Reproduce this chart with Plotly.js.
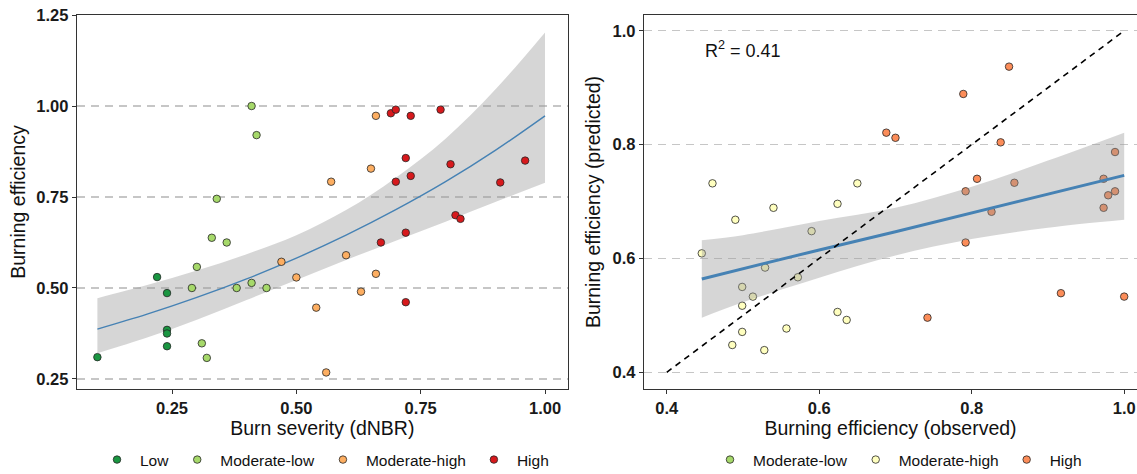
<!DOCTYPE html>
<html>
<head>
<meta charset="utf-8">
<script src="https://cdn.plot.ly/plotly-3.0.1.min.js"></script>
<style>html,body{margin:0;padding:0;background:#fff;}#chart{width:1137px;height:474px;}</style>
</head>
<body>
<div id="chart"></div>
<script>
// ---------- Left panel: Burning efficiency vs burn severity ----------
const lowX = [0.10, 0.22, 0.24, 0.24, 0.24, 0.24];
const lowY = [0.31, 0.53, 0.486, 0.385, 0.375, 0.34];
const modLowX = [0.41, 0.42, 0.34, 0.33, 0.36, 0.30, 0.29, 0.38, 0.41, 0.44, 0.31, 0.32];
const modLowY = [1.00, 0.92, 0.745, 0.638, 0.625, 0.558, 0.50, 0.50, 0.514, 0.50, 0.348, 0.308];
const modHighX = [0.66, 0.65, 0.57, 0.47, 0.50, 0.60, 0.66, 0.63, 0.54, 0.56];
const modHighY = [0.973, 0.828, 0.792, 0.572, 0.529, 0.59, 0.539, 0.49, 0.446, 0.268];
const highX = [0.69, 0.70, 0.73, 0.79, 0.72, 0.81, 0.96, 0.73, 0.70, 0.91, 0.82, 0.83, 0.72, 0.67, 0.72];
const highY = [0.98, 0.99, 0.973, 0.99, 0.857, 0.84, 0.85, 0.808, 0.792, 0.79, 0.70, 0.69, 0.652, 0.625, 0.461];

// fitted curve and confidence band
const fitLX = [0.10, 0.20, 0.30, 0.40, 0.50, 0.60, 0.70, 0.80, 0.90, 1.00];
const fitLY = [0.387, 0.428, 0.474, 0.525, 0.582, 0.645, 0.715, 0.792, 0.878, 0.973];
const fitLLo = [0.321, 0.364, 0.413, 0.467, 0.522, 0.577, 0.630, 0.682, 0.736, 0.789];
const fitLHi = [0.472, 0.508, 0.548, 0.593, 0.645, 0.714, 0.803, 0.910, 1.045, 1.202];

const xTicksL = [0.25, 0.50, 0.75, 1.00];
const yTicksL = [0.25, 0.50, 0.75, 1.00, 1.25];

// ---------- Right panel: predicted vs observed ----------
const mhObs = [0.46, 0.49, 0.54, 0.624, 0.65, 0.59, 0.446, 0.529, 0.572, 0.499, 0.513, 0.499, 0.624, 0.636, 0.557, 0.499, 0.486, 0.528];
const mhPred = [0.732, 0.668, 0.689, 0.696, 0.732, 0.648, 0.609, 0.584, 0.567, 0.550, 0.533, 0.517, 0.506, 0.492, 0.477, 0.471, 0.448, 0.439];
const hObs = [0.849, 0.789, 0.688, 0.70, 0.838, 0.807, 0.856, 0.792, 0.826, 0.988, 0.973, 0.988, 0.979, 0.973, 0.792, 0.917, 1.0, 0.742];
const hPred = [0.937, 0.889, 0.821, 0.812, 0.804, 0.740, 0.733, 0.718, 0.682, 0.787, 0.740, 0.718, 0.711, 0.689, 0.628, 0.539, 0.533, 0.496];
// no Moderate-low points in this panel: legend entry only
const mlObs = [null];
const mlPred = [null];

const fitRX = [0.446, 0.50, 0.60, 0.70, 0.80, 0.90, 1.00];
const fitRY = [0.564, 0.582, 0.615, 0.647, 0.680, 0.713, 0.746];
const fitRLo = [0.496, 0.523, 0.566, 0.605, 0.634, 0.654, 0.668];
const fitRHi = [0.632, 0.641, 0.666, 0.689, 0.726, 0.772, 0.821];

const oneToOneX = [0.4, 1.0];
const oneToOneY = [0.4, 1.0];

const xTicksR = [0.4, 0.6, 0.8, 1.0];
const yTicksR = [0.4, 0.6, 0.8, 1.0];

const r2Label = 'R<sup>2</sup> = 0.41';

// ---------- colours ----------
const cLow = '#1a9641', cModLow = '#a6d96a', cModHigh = '#fdae61', cHigh = '#d7191c';
const cModHighR = '#ffffbf', cHighR = '#fc8d59';
const FONT = 'Liberation Sans, Arial, Helvetica, sans-serif';

function pts(x, y, name, color, xa, ya, legend) {
  return {
    type: 'scatter', mode: 'markers', x: x, y: y, name: name,
    xaxis: xa, yaxis: ya, legend: legend,
    marker: {color: color, size: 7.5, line: {color: '#262626', width: 0.8}},
    hoverinfo: 'x+y'
  };
}
function band(x, lo, hi, xa, ya, shape) {
  return [
    {type: 'scatter', mode: 'lines', x: x, y: lo, line: {width: 0, shape: shape},
     xaxis: xa, yaxis: ya, showlegend: false, hoverinfo: 'skip'},
    {type: 'scatter', mode: 'lines', x: x, y: hi, line: {width: 0, shape: shape},
     fill: 'tonexty', fillcolor: 'rgba(153,153,153,0.4)',
     xaxis: xa, yaxis: ya, showlegend: false, hoverinfo: 'skip'}
  ];
}

const traces = [].concat(
  band(fitLX, fitLLo, fitLHi, 'x', 'y', 'spline'),
  [
    {type: 'scatter', mode: 'lines', x: fitLX, y: fitLY, line: {color: '#4682b4', width: 1.4, shape: 'spline'},
     xaxis: 'x', yaxis: 'y', showlegend: false},
    pts(lowX, lowY, 'Low', cLow, 'x', 'y', 'legend'),
    pts(modLowX, modLowY, 'Moderate-low', cModLow, 'x', 'y', 'legend'),
    pts(modHighX, modHighY, 'Moderate-high', cModHigh, 'x', 'y', 'legend'),
    pts(highX, highY, 'High', cHigh, 'x', 'y', 'legend'),

    pts(mlObs, mlPred, 'Moderate-low', cModLow, 'x2', 'y2', 'legend2'),
    pts(mhObs, mhPred, 'Moderate-high', cModHighR, 'x2', 'y2', 'legend2'),
    pts(hObs, hPred, 'High', cHighR, 'x2', 'y2', 'legend2')
  ],
  band(fitRX, fitRLo, fitRHi, 'x2', 'y2', 'spline'),
  [
    {type: 'scatter', mode: 'lines', x: fitRX, y: fitRY, line: {color: '#4682b4', width: 3},
     xaxis: 'x2', yaxis: 'y2', showlegend: false},
    {type: 'scatter', mode: 'lines', x: oneToOneX, y: oneToOneY, line: {color: '#000', width: 1.6, dash: '6px,5px'},
     xaxis: 'x2', yaxis: 'y2', showlegend: false}
  ]
);

const axisCommon = {
  showline: true, linecolor: '#333', linewidth: 1.3,
  ticks: 'outside', ticklen: 4, tickwidth: 1, tickcolor: '#333',
  tickfont: {size: 16.5, weight: 'bold', color: '#1a1a1a', family: FONT},
  zeroline: false, automargin: true
};
const gridY = {showgrid: true, gridcolor: '#c6c6c6', gridwidth: 1.3, griddash: '8px,6px'};

// plot area spans pixel rows 15..389 (374 px); legends sit at row ~460
const legY = (389 - 460) / 374;

const layout = {
  width: 1137, height: 474,
  margin: {l: 0, r: 0, t: 15, b: 85, pad: 0, autoexpand: false},
  paper_bgcolor: '#fff', plot_bgcolor: '#fff',
  font: {family: FONT, color: '#000'},
  showlegend: true,
  xaxis: Object.assign({}, axisCommon, {
    domain: [77 / 1137, 567.7 / 1137], range: [0.059, 1.0456],
    tickvals: xTicksL, tickformat: '.2f', showgrid: false, mirror: true, anchor: 'y',
    title: {text: 'Burn severity (dNBR)', font: {size: 19.5, color: '#111'}, standoff: 4}
  }),
  yaxis: Object.assign({}, axisCommon, gridY, {
    domain: [0, 1], range: [0.2225, 1.25],
    tickvals: yTicksL, tickformat: '.2f', mirror: true, anchor: 'x',
    title: {text: 'Burning efficiency', font: {size: 19.5, color: '#111'}, standoff: 5}
  }),
  xaxis2: Object.assign({}, axisCommon, {
    domain: [644 / 1137, 1], range: [0.3702, 1.0168],
    tickvals: xTicksR, tickformat: '.1f', showgrid: false, mirror: true, anchor: 'y2',
    title: {text: 'Burning efficiency (observed)', font: {size: 19.5, color: '#111'}, standoff: 4}
  }),
  yaxis2: Object.assign({}, axisCommon, gridY, {
    domain: [0, 1], range: [0.3707, 1.0277],
    tickvals: yTicksR, tickformat: '.1f', mirror: false, anchor: 'x2',
    title: {text: 'Burning efficiency (predicted)', font: {size: 19.5, color: '#111'}, standoff: 6}
  }),
  legend: {
    orientation: 'h', x: 94 / 1137, xanchor: 'left', y: legY, yanchor: 'middle',
    font: {size: 15.5, color: '#111'}, itemwidth: 36, bgcolor: 'rgba(0,0,0,0)', traceorder: 'normal'
  },
  legend2: {
    orientation: 'h', x: 707 / 1137, xanchor: 'left', y: legY, yanchor: 'middle',
    font: {size: 15.5, color: '#111'}, itemwidth: 36, bgcolor: 'rgba(0,0,0,0)', traceorder: 'normal'
  },
  annotations: [{
    xref: 'x2', yref: 'y2', x: 0.447, y: 0.967, xanchor: 'left', yanchor: 'middle',
    text: r2Label, showarrow: false, font: {size: 18, color: '#111', family: FONT}
  }]
};

Plotly.newPlot('chart', traces, layout, {displayModeBar: false, staticPlot: true});
</script>
</body>
</html>
